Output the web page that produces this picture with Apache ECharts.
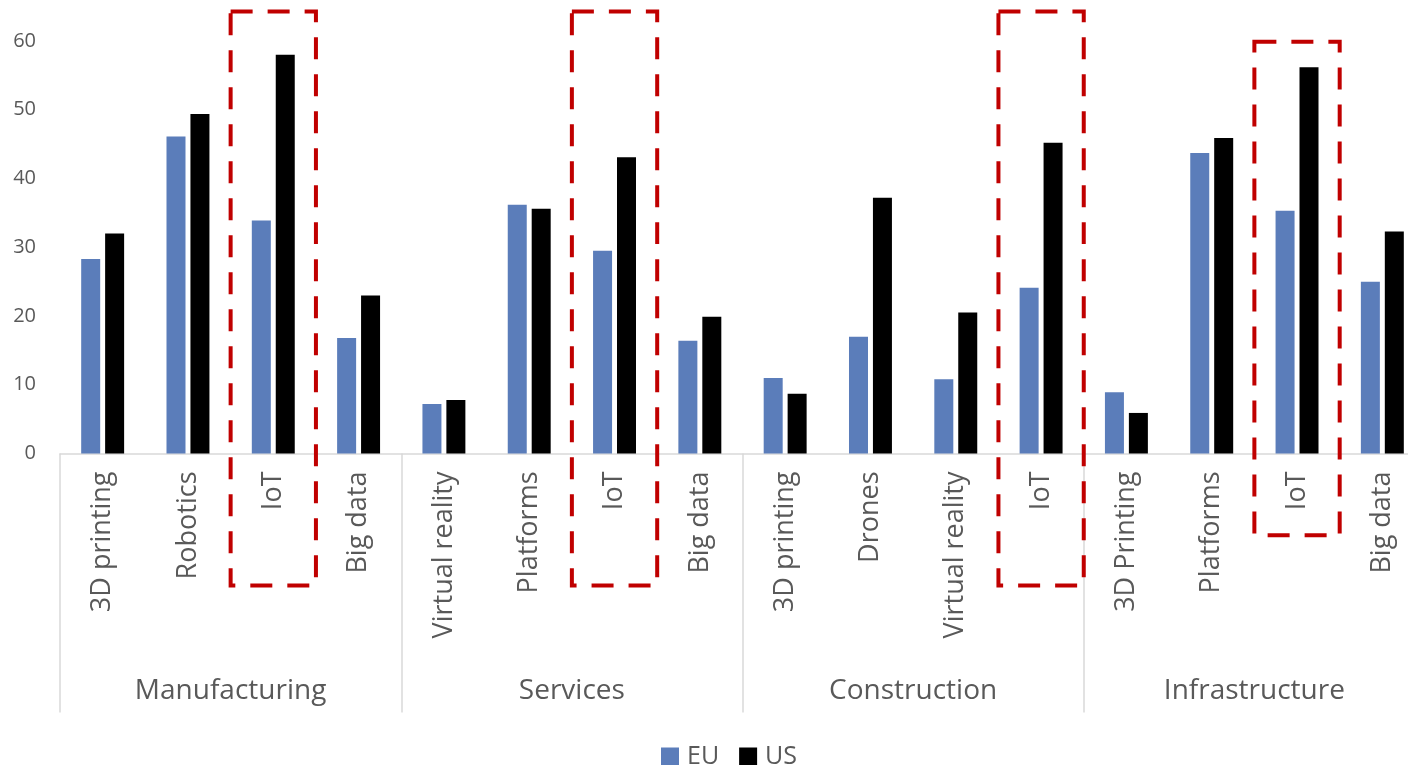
<!DOCTYPE html>
<html>
<head>
<meta charset="UTF-8">
<title>EU vs US</title>
<script src="https://cdn.jsdelivr.net/npm/echarts@6/dist/echarts.min.js"></script>
<style>
	body { margin: 0; background: #fff; }
	#main { width: 1408px; height: 765px; }
</style>
</head>
<body>
	<div id="main"></div>
	<script>
		// data
		var sectors = ['Manufacturing', 'Services', 'Construction', 'Infrastructure'];
		var techs = ['3D printing', 'Robotics', 'IoT', 'Big data',
			'Virtual reality', 'Platforms', 'IoT', 'Big data',
			'3D printing', 'Drones', 'Virtual reality', 'IoT',
			'3D Printing', 'Platforms', 'IoT', 'Big data'];
		var euValues = [28.3, 46.1, 33.9, 16.8, 7.2, 36.2, 29.5, 16.4,
			11.0, 17.0, 10.8, 24.1, 8.9, 43.7, 35.3, 25.0];
		var usValues = [32.0, 49.4, 58.0, 23.0, 7.8, 35.6, 43.1, 19.9,
			8.7, 37.2, 20.5, 45.2, 5.9, 45.9, 56.2, 32.3];
		var yTicks = [0, 10, 20, 30, 40, 50, 60];
		// dashed boxes around the IoT bars: category index, top / bottom in axis units
		var boxCats = [2, 6, 11, 14];
		var boxTops = [64.3, 64.3, 64.3, 59.9];
		var boxBottoms = [-19.2, -19.2, -19.2, -11.9];

		var font = 'Open Sans';
		var grey = '#595959';
		var lineGrey = '#d9d9d9';

		var myChart = echarts.init(document.getElementById('main'));

		var option = {
			animation: false,
			grid: {
				left: 60,
				top: 41,
				width: 1365, // plot runs past the right edge of the picture
				bottom: 311.5,
				containLabel: false,
				outerBoundsMode: 'none'
			},
			legend: {
				data: ['EU', 'US'],
				left: 656,
				top: 739,
				itemWidth: 18,
				itemHeight: 18,
				itemGap: 20,
				icon: 'rect',
				textStyle: { fontFamily: font, fontSize: 25, color: grey, padding: [0, 0, 0, 3] }
			},
			xAxis: [{
				type: 'category',
				data: techs,
				axisLine: { lineStyle: { color: lineGrey, width: 1.5 } },
				axisTick: { show: false },
				axisLabel: {
					interval: 0,
					rotate: 90,
					margin: 18,
					fontFamily: font,
					fontSize: 27,
					color: grey
				}
			}, {
				// outer level of the category axis
				type: 'category',
				data: sectors,
				position: 'bottom',
				axisLine: { show: false },
				axisTick: { show: true, length: 259, lineStyle: { color: lineGrey, width: 1.5 } },
				axisLabel: {
					interval: 0,
					margin: 224,
					fontFamily: font,
					fontSize: 28,
					color: grey
				}
			}],
			yAxis: {
				type: 'value',
				min: yTicks[0],
				max: yTicks[yTicks.length - 1],
				interval: 10,
				axisLine: { show: false },
				axisTick: { show: false },
				splitLine: { show: false },
				axisLabel: { margin: 24, fontFamily: font, fontSize: 20, color: grey }
			},
			series: [{
				name: 'EU',
				type: 'bar',
				data: euValues,
				barWidth: 19,
				barGap: '26%',
				itemStyle: { color: '#5b7dba' }
			}, {
				name: 'US',
				type: 'bar',
				data: usValues,
				barWidth: 19,
				itemStyle: { color: '#000000' }
			}]
		};

		myChart.setOption(option);

		// red dashed boxes, placed from the axes
		var boxes = [];
		for (var i = 0; i < boxCats.length; i++) {
			var c = boxCats[i];
			var cx = myChart.convertToPixel({ xAxisIndex: 0 }, c);
			var step = myChart.convertToPixel({ xAxisIndex: 0 }, c + 1) - cx;
			var y1 = myChart.convertToPixel({ yAxisIndex: 0 }, boxTops[i]);
			var y2 = myChart.convertToPixel({ yAxisIndex: 0 }, boxBottoms[i]);
			boxes.push({
				type: 'rect',
				z: 100,
				shape: { x: cx - step / 2, y: y1, width: step, height: y2 - y1 },
				style: {
					fill: null,
					stroke: '#c00000',
					lineWidth: 4,
					lineDash: [22, 15]
				}
			});
		}
		myChart.setOption({ graphic: boxes });
	</script>
</body>
</html>
